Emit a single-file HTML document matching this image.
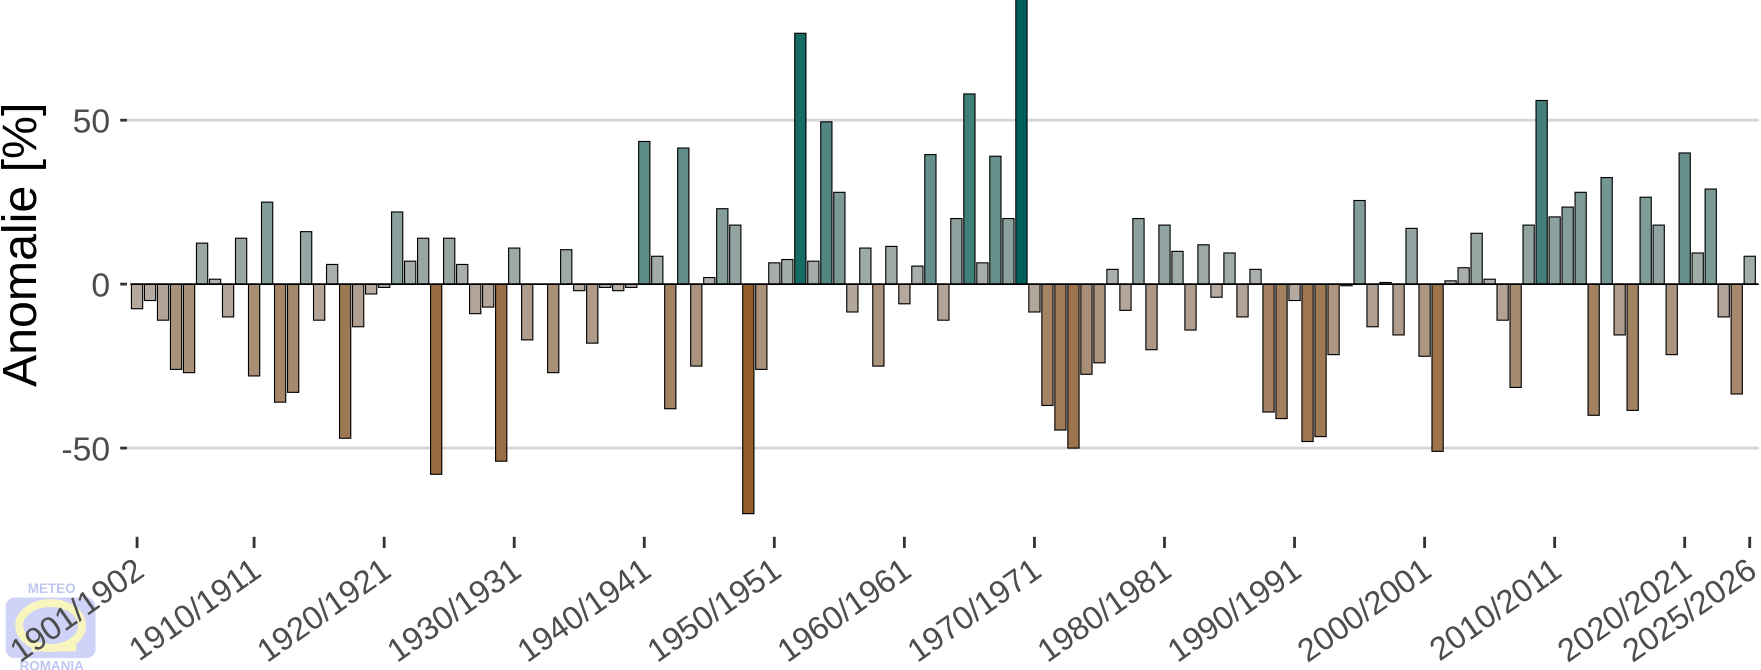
<!DOCTYPE html>
<html><head><meta charset="utf-8"><style>
html,body{margin:0;padding:0;background:#fff;}
svg{display:block;font-family:"Liberation Sans",Arial,sans-serif;}
</style></head><body>
<svg id="s" width="1761" height="670" viewBox="0 0 1568 596.6" xmlns="http://www.w3.org/2000/svg">
<g id="logo" opacity="0.55">
<text x="46" y="528" font-size="12" font-weight="bold" fill="#8e97e6" text-anchor="middle">METEO</text>
<rect x="5" y="532" width="80" height="54" rx="8" fill="#a9b0f2"/>
<ellipse cx="45" cy="557" rx="28" ry="20" fill="none" stroke="#f4f08a" stroke-width="7"/>
<rect x="28" y="574" width="40" height="6" fill="#f4f08a"/>
<text x="46" y="597" font-size="12" font-weight="bold" fill="#8e97e6" text-anchor="middle">ROMANIA</text>
</g>
<g id="grid">
<line x1="113" x2="1566" y1="107" y2="107" stroke="#d6d6d6" stroke-width="2.5"/>
<line x1="113" x2="1566" y1="399" y2="399" stroke="#d6d6d6" stroke-width="2.5"/>
<line x1="107" x2="113" y1="107" y2="107" stroke="#333" stroke-width="2.5"/>
<line x1="107" x2="113" y1="253" y2="253" stroke="#333" stroke-width="2.5"/>
<line x1="107" x2="113" y1="399" y2="399" stroke="#333" stroke-width="2.5"/>
</g>
<g font-size="30" fill="#4d4d4d" text-anchor="end">
<text x="98" y="118">50</text>
<text x="98" y="264">0</text>
<text x="98" y="410">-50</text>
</g>
<text transform="translate(32,218) rotate(-90)" font-size="43" fill="#000" text-anchor="middle">Anomalie [%]</text>
<g id="bars" stroke="#000" stroke-width="1"></g>
<line x1="116" x2="1566" y1="253" y2="253" stroke="#000" stroke-width="1.5"/>
<g id="xt"></g>
</svg>
<script>
var d=[[122,-7.5],[134,-5],[145,-11],[157,-26],[168,-27],[180,12.5],[192,1.5],[203,-10],[215,14],[226,-28],[238,25],[250,-36],[261,-33],[273,16],[284,-11],[296,6],[308,-47],[319,-13],[331,-3],[342,-1],[354,22],[366,7],[377,14],[389,-58],[400,14],[412,6],[424,-9],[435,-7],[447,-54],[458,11],[470,-17],[492,-27],[504,10.5],[515,-2],[527,-18],[539,-1],[550,-2],[562,-1],[573,43.5],[585,8.5],[597,-38],[608,41.5],[620,-25],[631,2],[643,23],[655,18],[666,-70],[678,-26],[689,6.5],[701,7.5],[713,76.5],[724,7],[736,49.5],[747,28],[759,-8.5],[771,11],[782,-25],[794,11.5],[805,-6],[817,5.5],[829,39.5],[840,-11],[852,20],[863,58],[875,6.5],[886,39],[898,20],[910,87],[921,-8.5],[933,-37],[944,-44.5],[956,-50],[968,-27.5],[979,-24],[991,4.5],[1002,-8],[1014,20],[1026,-20],[1037,18],[1049,10],[1060,-14],[1072,12],[1084,-4],[1095,9.5],[1107,-10],[1118,4.5],[1130,-39],[1142,-41],[1153,-5],[1165,-48],[1176,-46.5],[1188,-21.5],[1200,-0.5],[1211,25.5],[1223,-13],[1234,0.5],[1246,-15.5],[1257,17],[1269,-22],[1281,-51],[1292,1],[1304,5],[1315,15.5],[1327,1.5],[1339,-11],[1350,-31.5],[1361,18],[1373,56],[1385,20.5],[1396,23.5],[1408,28],[1419,-40],[1431,32.5],[1442,-15.5],[1454,-38.5],[1466,26.5],[1477,18],[1489,-21.5],[1500,40],[1512,9.5],[1524,29],[1535,-10],[1547,-33.5],[1558,8.5]];
var s=(1558-122)/124;
function mix(a,b,t){return 'rgb('+[0,1,2].map(function(k){return Math.round(a[k]+(b[k]-a[k])*t)}).join(',')+')';}
var g=document.getElementById('bars'),h='';
d.forEach(function(p){var i=Math.round((p[0]-122)/s);var cx=122+i*s;var v=p[1];
var y0=253,y1=253-v*2.92;var col=v>=0?mix([176,178,176],[0,96,90],Math.min(1,Math.pow(v/87,1.1))):mix([184,176,170],[146,92,40],Math.min(1,Math.pow(-v/70,1.0)));
h+='<rect x="'+(cx-5).toFixed(2)+'" y="'+Math.min(y0,y1).toFixed(2)+'" width="10" height="'+Math.abs(y1-y0).toFixed(2)+'" fill="'+col+'"/>';});
g.innerHTML=h;
var yrs=[1901,1910,1920,1930,1940,1950,1960,1970,1980,1990,2000,2010,2020,2025],t='';
yrs.forEach(function(y){var x=122+(y-1901)*s;
t+='<line x1="'+x+'" x2="'+x+'" y1="478" y2="488" stroke="#333" stroke-width="2.5"/>';
t+='<text transform="translate('+(x+8)+',512) rotate(-35)" text-anchor="end" font-size="29" fill="#4d4d4d">'+y+'/'+(y+1)+'</text>';});
document.getElementById('xt').innerHTML=t;
</script>
</body></html>
